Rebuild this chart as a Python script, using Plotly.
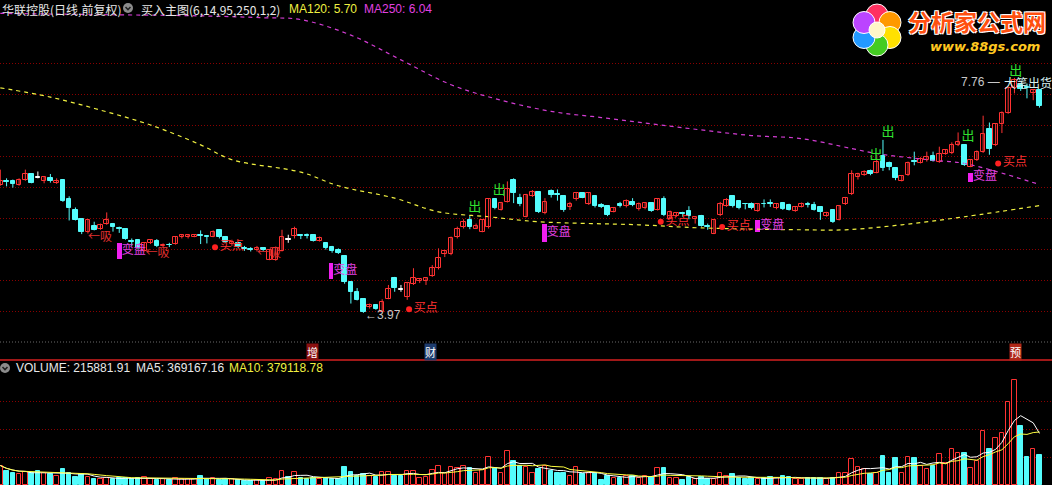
import plotly.graph_objects as go
import pandas as pd
import math

# ---------------- data ----------------
opens = [6.03, 6.09, 6.10, 6.03, 6.11, 6.21, 6.16, 6.09, 6.14, 6.06,
         6.11, 5.80, 5.63, 5.49, 5.28, 5.37, 5.32, 5.41, 5.40, 5.34,
         5.33, 5.12, 5.15, 4.97, 5.09, 5.13, 5.05, 5.07, 5.08, 5.19,
         5.20, 5.20, 5.22, 5.21, 5.20, 5.30, 5.20, 5.08, 5.09, 5.01,
         5.00, 4.99, 5.01, 4.83, 4.82, 4.97, 5.16, 5.21, 5.22, 5.22,
         5.23, 5.13, 5.09, 5.03, 4.99, 4.88, 4.47, 4.31, 4.20, 4.07,
         4.10, 3.99, 4.20, 4.54, 4.34, 4.23, 4.44, 4.49, 4.49, 4.56,
         4.69, 4.92, 4.92, 5.20, 5.35, 5.47, 5.33, 5.28, 5.35, 5.80,
         5.63, 5.76, 6.12, 5.82, 5.52, 5.85, 5.92, 5.58, 5.94, 5.88,
         5.85, 5.67, 5.80, 5.90, 5.73, 5.85, 5.71, 5.69, 5.60, 5.73,
         5.69, 5.76, 5.64, 5.66, 5.74, 5.63, 5.80, 5.49, 5.54, 5.58,
         5.62, 5.48, 5.53, 5.37, 5.25, 5.55, 5.69, 5.85, 5.78, 5.73,
         5.73, 5.62, 5.73, 5.74, 5.66, 5.74, 5.71, 5.62, 5.68, 5.72,
         5.71, 5.67, 5.53, 5.63, 5.47, 5.73, 5.89, 6.16, 6.19, 6.26,
         6.23, 6.50, 6.39, 6.30, 6.10, 6.19, 6.41, 6.39, 6.44, 6.50,
         6.41, 6.53, 6.55, 6.68, 6.68, 6.33, 6.44, 6.57, 6.93, 6.68,
         7.02, 7.20, 7.59, 7.65, 7.61, 7.51, 7.56]
highs = [6.28, 6.14, 6.12, 6.14, 6.28, 6.22, 6.25, 6.17, 6.21, 6.14,
         6.11, 5.85, 5.67, 5.49, 5.47, 5.44, 5.41, 5.59, 5.42, 5.36,
         5.33, 5.17, 5.16, 5.10, 5.16, 5.16, 5.09, 5.10, 5.20, 5.24,
         5.24, 5.24, 5.30, 5.21, 5.30, 5.30, 5.21, 5.15, 5.10, 5.05,
         5.03, 5.05, 5.02, 5.00, 5.04, 5.31, 5.23, 5.36, 5.24, 5.25,
         5.23, 5.20, 5.09, 5.05, 5.01, 4.88, 4.47, 4.37, 4.20, 4.12,
         4.11, 4.19, 4.42, 4.55, 4.42, 4.47, 4.69, 4.53, 4.53, 4.74,
         5.01, 4.98, 5.20, 5.36, 5.48, 5.53, 5.41, 5.47, 5.82, 5.82,
         5.76, 6.09, 6.14, 5.89, 5.89, 5.95, 5.92, 5.82, 5.96, 5.96,
         5.87, 5.76, 5.92, 5.91, 5.91, 5.87, 5.74, 5.69, 5.67, 5.76,
         5.80, 5.82, 5.75, 5.75, 5.75, 5.82, 5.85, 5.62, 5.59, 5.60,
         5.69, 5.51, 5.55, 5.41, 5.48, 5.76, 5.82, 5.87, 5.79, 5.73,
         5.75, 5.74, 5.80, 5.80, 5.74, 5.75, 5.73, 5.68, 5.75, 5.76,
         5.76, 5.68, 5.60, 5.64, 5.71, 5.84, 6.27, 6.23, 6.27, 6.28,
         6.52, 6.76, 6.41, 6.30, 6.19, 6.41, 6.57, 6.48, 6.57, 6.57,
         6.65, 6.61, 6.72, 6.88, 6.69, 6.45, 6.59, 7.15, 7.04, 7.03,
         7.22, 7.62, 7.76, 7.67, 7.67, 7.58, 7.56]
lows = [6.02, 6.01, 5.99, 6.02, 6.10, 6.06, 6.14, 6.06, 6.07, 6.05,
        5.76, 5.46, 5.46, 5.24, 5.25, 5.30, 5.31, 5.39, 5.28, 5.26,
        5.15, 5.05, 4.99, 4.96, 5.08, 5.03, 5.03, 5.03, 5.07, 5.17,
        5.17, 5.19, 5.08, 5.09, 5.19, 5.17, 5.10, 5.05, 5.01, 4.97,
        4.96, 4.96, 4.97, 4.82, 4.81, 4.96, 5.10, 5.17, 5.16, 5.17,
        5.12, 5.12, 4.99, 4.94, 4.92, 4.44, 4.12, 4.17, 3.97, 4.04,
        4.02, 3.98, 4.19, 4.31, 4.31, 4.18, 4.42, 4.45, 4.42, 4.55,
        4.67, 4.87, 4.90, 5.17, 5.33, 5.32, 5.33, 5.27, 5.33, 5.64,
        5.62, 5.75, 5.74, 5.69, 5.51, 5.84, 5.58, 5.56, 5.83, 5.78,
        5.60, 5.63, 5.78, 5.82, 5.71, 5.67, 5.66, 5.53, 5.59, 5.67,
        5.67, 5.69, 5.62, 5.64, 5.60, 5.62, 5.53, 5.48, 5.52, 5.52,
        5.48, 5.41, 5.36, 5.31, 5.24, 5.53, 5.68, 5.67, 5.64, 5.64,
        5.64, 5.60, 5.67, 5.68, 5.64, 5.63, 5.62, 5.60, 5.67, 5.67,
        5.62, 5.47, 5.52, 5.42, 5.46, 5.71, 5.87, 6.12, 6.18, 6.19,
        6.22, 6.26, 6.27, 6.11, 6.09, 6.18, 6.35, 6.38, 6.41, 6.41,
        6.39, 6.52, 6.53, 6.66, 6.34, 6.32, 6.42, 6.55, 6.52, 6.66,
        6.87, 7.18, 7.51, 7.55, 7.43, 7.40, 7.28]
closes = [6.10, 6.08, 6.05, 6.12, 6.21, 6.07, 6.16, 6.16, 6.09, 6.10,
          5.78, 5.66, 5.47, 5.28, 5.46, 5.31, 5.39, 5.47, 5.36, 5.33,
          5.16, 5.11, 5.01, 5.09, 5.15, 5.05, 5.07, 5.06, 5.19, 5.23,
          5.23, 5.23, 5.21, 5.20, 5.28, 5.19, 5.12, 5.12, 5.03, 5.00,
          4.99, 5.02, 4.98, 4.98, 5.01, 5.19, 5.16, 5.33, 5.21, 5.21,
          5.13, 5.17, 5.01, 4.97, 4.94, 4.47, 4.31, 4.18, 3.98, 4.09,
          4.03, 4.15, 4.35, 4.37, 4.34, 4.45, 4.53, 4.52, 4.53, 4.70,
          4.85, 4.96, 5.17, 5.33, 5.44, 5.36, 5.37, 5.46, 5.80, 5.66,
          5.74, 5.96, 5.90, 5.73, 5.87, 5.92, 5.59, 5.76, 5.87, 5.87,
          5.63, 5.73, 5.91, 5.83, 5.90, 5.69, 5.67, 5.55, 5.66, 5.69,
          5.78, 5.71, 5.73, 5.74, 5.62, 5.80, 5.55, 5.60, 5.58, 5.57,
          5.53, 5.51, 5.37, 5.36, 5.47, 5.73, 5.79, 5.69, 5.66, 5.72,
          5.66, 5.73, 5.72, 5.73, 5.73, 5.64, 5.63, 5.67, 5.73, 5.71,
          5.63, 5.59, 5.58, 5.44, 5.69, 5.82, 6.21, 6.21, 6.25, 6.21,
          6.41, 6.30, 6.33, 6.14, 6.18, 6.39, 6.40, 6.45, 6.49, 6.42,
          6.53, 6.59, 6.68, 6.72, 6.35, 6.44, 6.57, 6.85, 6.61, 7.02,
          7.20, 7.59, 7.73, 7.58, 7.60, 7.56, 7.30]
volumes = [140000, 100000, 83000, 76000, 92000, 88000, 104000, 83000, 76000, 68000,
           112000, 83000, 59000, 76000, 59000, 44000, 44000, 52000, 44000, 52000,
           52000, 44000, 52000, 59000, 44000, 35000, 40000, 35000, 52000, 44000,
           40000, 40000, 68000, 44000, 52000, 35000, 44000, 40000, 35000, 28000,
           28000, 35000, 28000, 47000, 40000, 104000, 59000, 92000, 52000, 44000,
           52000, 44000, 52000, 44000, 40000, 131000, 92000, 64000, 76000, 64000,
           59000, 92000, 92000, 64000, 62000, 100000, 100000, 52000, 59000, 107000,
           136000, 88000, 131000, 124000, 136000, 124000, 83000, 107000, 203000, 124000,
           88000, 248000, 176000, 136000, 131000, 88000, 112000, 140000, 100000, 83000,
           83000, 68000, 131000, 76000, 88000, 88000, 35000, 68000, 52000, 52000,
           68000, 64000, 52000, 64000, 59000, 119000, 119000, 47000, 52000, 35000,
           56000, 44000, 59000, 44000, 40000, 88000, 68000, 76000, 52000, 40000,
           52000, 40000, 52000, 59000, 49000, 64000, 59000, 44000, 44000, 52000,
           52000, 52000, 40000, 52000, 83000, 83000, 184000, 131000, 112000, 80000,
           88000, 212000, 83000, 191000, 88000, 203000, 198000, 136000, 116000, 140000,
           224000, 155000, 256000, 232000, 232000, 124000, 172000, 392000, 256000, 340000,
           376000, 596000, 755000, 428000, 203000, 256000, 215881.91]

# moving averages of price (history before the window is not visible)
ma120_idx = [0, 8, 16, 24, 32, 37, 48, 54, 63, 70, 78, 86, 102, 112, 128, 135, 144, 154, 166]
ma120_val = [7.60, 7.45, 7.24, 7.00, 6.68, 6.44, 6.24, 6.02, 5.82, 5.60, 5.52, 5.44,
             5.39, 5.34, 5.31, 5.31, 5.39, 5.52, 5.70]
ma250_idx = [0, 16, 32, 42, 48, 56, 64, 72, 80, 88, 96, 104, 112, 120, 128, 136, 140, 149, 154, 166]
ma250_val = [8.80, 8.78, 8.76, 8.73, 8.70, 8.45, 8.05, 7.65, 7.40, 7.22, 7.12, 7.02,
             6.92, 6.83, 6.78, 6.62, 6.54, 6.43, 6.38, 6.04]

# signal labels
buy_idx = [34.3, 65.3, 105.5, 115.3, 159.4]
buy_px = [5.03, 4.03, 5.44, 5.355, 6.38]
out_idx = [75.8, 79.7, 139.9, 141.8, 154.6, 162.2]
out_px = [5.66, 5.935, 6.50, 6.88, 6.81, 7.86]
turn_idx = [19.0, 52.8, 86.9, 121.0, 155.0]
turn_top = [5.10, 4.77, 5.40, 5.47, 6.23]
turn_bot = [4.84, 4.52, 5.11, 5.27, 6.08]
suck_idx = [14.0, 23.2, 41.0]
suck_px = [5.18, 4.92, 4.92]

# ---------------- styling ----------------
UP = "#FF3232"
DN = "#54FCFC"
FLAT = "#FFFFFF"
GRID = "#8A0000"
FONT = "Liberation Sans, Noto Sans CJK SC, sans-serif"
CJK = "Noto Sans CJK SC, sans-serif"
W, H = 1052, 485

n = len(opens)
idx = list(range(n))


def kind(i):
    if closes[i] > opens[i]:
        return "up"
    if closes[i] < opens[i]:
        return "dn"
    return "flat"


colors = {"up": UP, "dn": DN, "flat": FLAT}
fig = go.Figure()

# MA lines
fig.add_trace(go.Scatter(x=ma250_idx, y=ma250_val, mode="lines", line=dict(color="#D23CD2", width=1.2, dash="4px,4px"),
                         line_shape="spline", hoverinfo="skip"))
fig.add_trace(go.Scatter(x=ma120_idx, y=ma120_val, mode="lines", line=dict(color="#F0F040", width=1.2, dash="4px,4px"),
                         line_shape="spline", hoverinfo="skip"))

# wicks and bodies
for k in ["up", "dn", "flat"]:
    wx, wy = [], []
    bx, bb, bh = [], [], []
    for i in idx:
        if kind(i) != k:
            continue
        wx += [i, i, None]
        wy += [lows[i], highs[i], None]
        lo = min(opens[i], closes[i])
        h = abs(closes[i] - opens[i])
        if h < 0.014:
            lo = lo - (0.014 - h) / 2
            h = 0.014
        bx.append(i)
        bb.append(lo)
        bh.append(h)
    fig.add_trace(go.Scatter(x=wx, y=wy, mode="lines", line=dict(color=colors[k], width=1), hoverinfo="skip"))
    fill = "#000000" if k == "up" else colors[k]
    fig.add_trace(go.Bar(x=bx, y=bh, base=bb, width=0.74, marker=dict(color=fill, line=dict(color=colors[k], width=1)),
                         hoverinfo="skip"))

# signal marks
fig.add_trace(go.Bar(x=turn_idx, y=[t - b for t, b in zip(turn_top, turn_bot)], base=turn_bot, width=0.75,
                     marker=dict(color="#F020F0", line=dict(width=0)), hoverinfo="skip"))
fig.add_trace(go.Scatter(x=[t + 0.4 for t in turn_idx], y=[(t + b) / 2 for t, b in zip(turn_top, turn_bot)],
                         mode="text", text=["变盘"] * len(turn_idx), textposition="middle right",
                         textfont=dict(family=CJK, size=12, color="#E040E0"), hoverinfo="skip"))
fig.add_trace(go.Scatter(x=buy_idx, y=buy_px, mode="markers+text", text=["买点"] * len(buy_idx),
                         textposition="middle right", marker=dict(color="#FF2020", size=6),
                         textfont=dict(family=CJK, size=12, color="#FF3030"), hoverinfo="skip"))
fig.add_trace(go.Scatter(x=out_idx, y=out_px, mode="text", text=["出"] * len(out_idx), textposition="middle center",
                         textfont=dict(family=CJK, size=13, color="#30E030"), hoverinfo="skip"))
fig.add_trace(go.Scatter(x=suck_idx, y=suck_px, mode="text", text=["←吸"] * len(suck_idx), textposition="middle right",
                         textfont=dict(family=CJK, size=12, color="#E03030"), hoverinfo="skip"))

# volume
for k in ["up", "dn"]:
    vx, vy = [], []
    for i in idx:
        if (kind(i) == "up") == (k == "up"):
            vx.append(i)
            vy.append(volumes[i])
    fill = "#000000" if k == "up" else DN
    fig.add_trace(go.Bar(x=vx, y=vy, width=0.72, yaxis="y2",
                         marker=dict(color=fill, line=dict(color=colors[k], width=1)), hoverinfo="skip"))
vs = pd.Series(volumes)
fig.add_trace(go.Scatter(x=idx, y=vs.rolling(5, min_periods=1).mean(), yaxis="y2", mode="lines",
                         line=dict(color="#FFFFFF", width=1), hoverinfo="skip"))
fig.add_trace(go.Scatter(x=idx, y=vs.rolling(10, min_periods=1).mean(), yaxis="y2", mode="lines",
                         line=dict(color="#FFFF40", width=1), hoverinfo="skip"))


def px(x):
    return x / W


def py(y):
    return 1 - y / H


shapes = []
# separators
shapes.append(dict(type="line", xref="paper", yref="paper", x0=0, x1=1, y0=py(360), y1=py(360),
                   line=dict(color="#A01818", width=2)))
shapes.append(dict(type="line", xref="paper", yref="y", x0=0, x1=1, y0=3.5, y1=3.5,
                   line=dict(color="#6A6A6A", width=1, dash="1px,2px")))
# chevron icons
for cx, cy in [(128, 8), (5, 368)]:
    shapes.append(dict(type="circle", xref="paper", yref="paper", x0=px(cx - 5), x1=px(cx + 5),
                       y0=py(cy + 5), y1=py(cy - 5), fillcolor="#8C8C8C", line=dict(width=0)))
    shapes.append(dict(type="path", xref="paper", yref="paper",
                       path="M %f %f L %f %f L %f %f" % (px(cx - 2.5), py(cy - 1), px(cx), py(cy + 1.6), px(cx + 2.5), py(cy - 1)),
                       line=dict(color="#202020", width=1.5)))
# logo flower
fx, fy = 877, 30
petals = ["#FF3060", "#FF9900", "#FFE000", "#44CC22", "#2299FF", "#BB44FF"]
for j, c in enumerate(petals):
    a = math.radians(90 - j * 60)
    ccx = fx + 15 * math.cos(a)
    ccy = fy - 15 * math.sin(a)
    shapes.append(dict(type="circle", xref="paper", yref="paper", x0=px(ccx - 11), x1=px(ccx + 11),
                       y0=py(ccy + 11), y1=py(ccy - 11), fillcolor=c, line=dict(color="#FFFFFF", width=1)))
shapes.append(dict(type="circle", xref="paper", yref="paper", x0=px(fx - 8), x1=px(fx + 8),
                   y0=py(fy + 8), y1=py(fy - 8), fillcolor="#FFF6C8", line=dict(color="#FFFFFF", width=1)))

annotations = []


def txt(x, y, s, color, size=12, family=FONT, anchor="left", bg=None, shadow=None):
    f = dict(family=family, size=size, color=color)
    if shadow:
        f["shadow"] = shadow
    d = dict(xref="paper", yref="paper", x=px(x), y=py(y), text=s, showarrow=False, xanchor=anchor, yanchor="middle",
             font=f)
    if bg:
        d["bgcolor"] = bg
        d["borderpad"] = 0
    annotations.append(d)


# extreme labels (from the data)
lo_i = min(idx, key=lambda i: lows[i])
hi_i = max(idx, key=lambda i: highs[i])
annotations.append(dict(xref="x", yref="y", x=lo_i - 0.1, y=lows[lo_i] - 0.04, text="←%.2f" % lows[lo_i],
                        showarrow=False, xanchor="left", font=dict(family=FONT, size=12, color="#C8C8C8")))
annotations.append(dict(xref="x", yref="y", x=hi_i - 1.95, y=highs[hi_i] - 0.07, text="%.2f —" % highs[hi_i],
                        showarrow=False, xanchor="right", font=dict(family=FONT, size=12, color="#C8C8C8")))
annotations.append(dict(xref="x", yref="y", x=hi_i - 2.0, y=highs[hi_i] - 0.07, text="大笔出货",
                        showarrow=False, xanchor="left", font=dict(family=CJK, size=12, color="#D8F0F0")))

txt(0, 9, "华联控股(日线,前复权)", "#E8E8E8", family=CJK)
txt(139, 9, "买入主图(6,14,95,250,1,2)", "#E8E8E8", family=CJK)
txt(287, 9, "MA120: 5.70", "#F0F040")
txt(362, 9, "MA250: 6.04", "#E040E0")
txt(14, 368, "VOLUME: 215881.91", "#E8E8E8")
txt(134, 368, "MA5: 369167.16", "#E8E8E8")
txt(227, 368, "MA10: 379118.78", "#F0F040")
txt(312, 352, "增", "#FFFFFF", size=11, family=CJK, anchor="center", bg="#8A1010")
txt(430, 352, "财", "#FFFFFF", size=11, family=CJK, anchor="center", bg="#1E3C6E")
txt(1015, 352, "预", "#FFFFFF", size=11, family=CJK, anchor="center", bg="#B02818")
txt(906, 21, "<b>分析家公式网</b>", "#FF5010", size=23, family=CJK,
    shadow="1px 1px 0 #fff, -1px -1px 0 #fff, 1px -1px 0 #fff, -1px 1px 0 #fff")
txt(928, 47, "<b><i>www.88gs.com</i></b>", "#FFC820", size=13, family="DejaVu Sans, sans-serif")

fig.update_layout(
    width=W, height=H, margin=dict(l=0, r=0, t=0, b=0),
    paper_bgcolor="#000000", plot_bgcolor="#000000", showlegend=False, barmode="overlay", bargap=0,
    hovermode=False,
    xaxis=dict(range=[-0.05, 168.0], showgrid=False, zeroline=False, showticklabels=False, ticks="", showline=False,
               anchor="y2"),
    yaxis=dict(domain=[py(345), 1], range=[4 - 34 / 62, 4 + 311 / 62], tickvals=[4.0, 4.5, 5.0, 5.5, 6.0, 6.5, 7.0, 7.5, 8.0],
               showgrid=True, gridcolor=GRID, griddash="1px,2px", gridwidth=1, zeroline=False, showticklabels=False,
               ticks="", showline=False),
    yaxis2=dict(domain=[0, py(362)], range=[0, (485 - 362) * 7200], tickvals=[200000, 400000, 600000],
                showgrid=True, gridcolor=GRID, griddash="1px,2px", gridwidth=1, zeroline=False, showticklabels=False,
                ticks="", showline=False),
    shapes=shapes, annotations=annotations,
)

fig.write_html("out.html", config={"displayModeBar": False},
               post_script="document.body.style.margin='0';document.body.style.background='#000';")
